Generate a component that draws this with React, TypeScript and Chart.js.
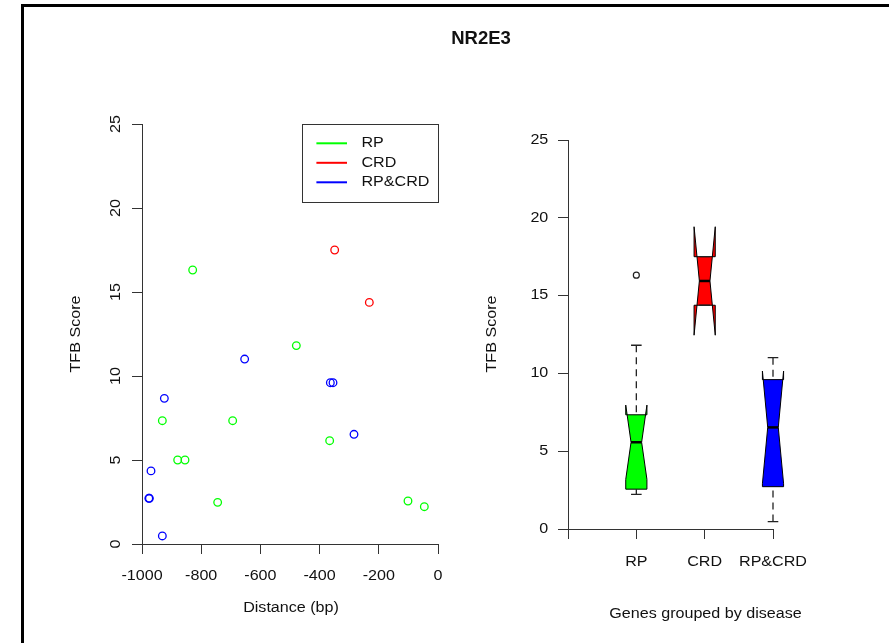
import React, { useEffect, useRef } from 'react';
import { Chart, registerables } from 'chart.js';

Chart.register(...registerables);

// ---------- data ----------
const TITLE = 'NR2E3';
const GROUPS = ['RP', 'CRD', 'RP&CRD'];
const GROUP_COLORS = ['#00FF00', '#FF0000', '#0000FF'];

const RP_DIST = [-828.8, -478.6, -931.3, -693.7, -879.5, -854.7, -366, -744.4, -101.4, -46.2];
const RP_SCORE = [16.31, 11.81, 7.34, 7.34, 5.0, 5.0, 6.15, 2.48, 2.56, 2.22];
const CRD_DIST = [-349.1, -232];
const CRD_SCORE = [17.5, 14.38];
const RPCRD_DIST = [-653.2, -924.5, -363.7, -354.7, -283.8, -969.6, -977, -975, -931.3];
const RPCRD_SCORE = [11.01, 8.67, 9.6, 9.6, 6.53, 4.35, 2.72, 2.72, 0.48];

const X_TICKS = [-1000, -800, -600, -400, -200, 0];
const Y_TICKS = [0, 5, 10, 15, 20, 25];
const BOX_X_TICKS = [0, 1, 2, 3];
const BOX_TICK_LABELS = ['', 'RP', 'CRD', 'RP&CRD'];

const X_TITLE_LEFT = 'Distance (bp)';
const Y_TITLE = 'TFB Score';
const X_TITLE_RIGHT = 'Genes grouped by disease';

const DISTS = [RP_DIST, CRD_DIST, RPCRD_DIST];
const SCORES = [RP_SCORE, CRD_SCORE, RPCRD_SCORE];

// ---------- style ----------
const W = 889;
const H = 643;
const AXIS = '#333';
const TXT = '#111';
const FONT = '"Liberation Sans", Arial, Helvetica, sans-serif';
const BOX_HALF = 0.155;
const NOTCH_FRAC = 0.5;

function drawText(
  ctx: CanvasRenderingContext2D,
  s: string,
  x: number,
  y: number,
  o: { size?: number; bold?: boolean; align?: CanvasTextAlign; rot?: number; sx?: number } = {}
) {
  ctx.save();
  ctx.translate(x, y);
  if (o.rot) ctx.rotate(o.rot);
  ctx.scale(o.sx ?? 1.15, 1);
  ctx.font = `${o.bold ? 'bold ' : ''}${o.size ?? 14}px ${FONT}`;
  ctx.fillStyle = TXT;
  ctx.textAlign = o.align ?? 'center';
  ctx.textBaseline = 'middle';
  ctx.fillText(s, 0, 0);
  ctx.restore();
}

function fivenum(a: number[]) {
  const x = [...a].sort((p, q) => p - q);
  const n = x.length;
  const n4 = Math.floor((n + 3) / 2) / 2;
  const d = [1, n4, (n + 1) / 2, n + 1 - n4, n];
  return d.map((di) => 0.5 * (x[Math.floor(di) - 1] + x[Math.ceil(di) - 1]));
}

function boxStats(a: number[]) {
  const [, q1, med, q3] = fivenum(a);
  const iqr = q3 - q1;
  const lo = q1 - 1.5 * iqr;
  const hi = q3 + 1.5 * iqr;
  const inside = a.filter((v) => v >= lo && v <= hi);
  const out = a.filter((v) => v < lo || v > hi);
  const h = (1.58 * iqr) / Math.sqrt(a.length);
  return {
    q1, med, q3,
    wlo: Math.min(...inside),
    whi: Math.max(...inside),
    out,
    nl: med - h,
    nu: med + h,
  };
}

const axisCommon = (min: number, max: number, ticks: number[]) => ({
  type: 'linear' as const,
  min,
  max,
  afterBuildTicks: (s: any) => {
    s.ticks = ticks.map((v) => ({ value: v }));
  },
  ticks: { display: false },
  grid: { drawOnChartArea: false, drawTicks: true, tickLength: 10, color: AXIS, lineWidth: 1 },
  border: { display: true, color: AXIS, width: 1 },
});

export default function App() {
  const leftRef = useRef<HTMLCanvasElement>(null);
  const rightRef = useRef<HTMLCanvasElement>(null);

  useEffect(() => {
    const leftPlugin = {
      id: 'leftDecor',
      afterDraw(chart: any) {
        const ctx = chart.ctx as CanvasRenderingContext2D;
        const xs = chart.scales.x;
        const ys = chart.scales.y;
        const ca = chart.chartArea;
        xs.ticks.forEach((t: any) => drawText(ctx, String(t.value), xs.getPixelForValue(t.value), 576));
        ys.ticks.forEach((t: any) =>
          drawText(ctx, String(t.value), 115.7, ys.getPixelForValue(t.value), { rot: -Math.PI / 2 })
        );
        drawText(ctx, X_TITLE_LEFT, (ca.left + ca.right) / 2 + 1, 608.5);
        drawText(ctx, Y_TITLE, 76.5, (ca.top + ca.bottom) / 2, { rot: -Math.PI / 2 });
        drawText(ctx, TITLE, 481, 39.3, { size: 18.5, bold: true, sx: 1 });

        // legend (top-right of plot)
        const lw = 135.6;
        const lh = 77.7;
        const lx = ca.right - lw;
        const ly = ca.top;
        ctx.save();
        ctx.strokeStyle = AXIS;
        ctx.lineWidth = 1;
        ctx.strokeRect(Math.round(lx) + 0.5, Math.round(ly) + 0.5, Math.round(lw), Math.round(lh));
        chart.data.datasets.forEach((ds: any, i: number) => {
          const yy = ly + 19.3 + i * 19.5;
          ctx.strokeStyle = ds.borderColor;
          ctx.lineWidth = 2;
          ctx.beginPath();
          ctx.moveTo(lx + 14, yy);
          ctx.lineTo(lx + 44.6, yy);
          ctx.stroke();
          drawText(ctx, ds.label, lx + 59, yy, { align: 'left' });
        });
        ctx.restore();
      },
    };

    const left = new Chart(leftRef.current!, {
      type: 'scatter',
      data: {
        datasets: GROUPS.map((g, i) => ({
          label: g,
          data: DISTS[i].map((x, j) => ({ x, y: SCORES[i][j] })),
          borderColor: GROUP_COLORS[i],
          backgroundColor: 'rgba(0,0,0,0)',
          pointRadius: 3.8,
          pointHoverRadius: 3.8,
          pointBorderWidth: 1.3,
          clip: false as any,
        })),
      },
      options: {
        responsive: false,
        animation: false,
        events: [],
        layout: { autoPadding: false, padding: { left: 142, right: W - 438, top: 124, bottom: H - 544 } },
        plugins: { legend: { display: false }, tooltip: { enabled: false }, title: { display: false } },
        scales: {
          x: { ...axisCommon(-1000, 0, X_TICKS), afterFit: (s: any) => { s.height = 0; } },
          y: { ...axisCommon(0, 25, Y_TICKS), afterFit: (s: any) => { s.width = 0; } },
        } as any,
      },
      plugins: [leftPlugin],
    });

    const stats = SCORES.map((s) => boxStats(s));

    const rightPlugin = {
      id: 'rightDecor',
      beforeDatasetsDraw(chart: any) {
        const ctx = chart.ctx as CanvasRenderingContext2D;
        const xs = chart.scales.x;
        const ys = chart.scales.y;
        const px = (v: number) => xs.getPixelForValue(v);
        const py = (v: number) => ys.getPixelForValue(v);
        stats.forEach((st, i) => {
          const pos = i + 1;
          const w = BOX_HALF;
          const nn = NOTCH_FRAC;
          const offs = [-w, w, w, nn * w, w, w, -w, -w, -nn * w, -w];
          const vals = [st.q1, st.q1, st.nl, st.med, st.nu, st.q3, st.q3, st.nu, st.med, st.nl];
          ctx.save();
          ctx.beginPath();
          offs.forEach((o, k) => {
            const X = px(pos + o);
            const Y = py(vals[k]);
            if (k === 0) ctx.moveTo(X, Y);
            else ctx.lineTo(X, Y);
          });
          ctx.closePath();
          ctx.fillStyle = GROUP_COLORS[i];
          ctx.fill('nonzero');
          ctx.strokeStyle = '#000';
          ctx.lineWidth = 1;
          ctx.lineJoin = 'miter';
          ctx.stroke();
          // median
          ctx.lineWidth = 2.5;
          ctx.beginPath();
          ctx.moveTo(px(pos - nn * w), py(st.med));
          ctx.lineTo(px(pos + nn * w), py(st.med));
          ctx.stroke();
          // whiskers
          ctx.lineWidth = 1.3;
          ctx.strokeStyle = '#222';
          ctx.setLineDash([7, 5]);
          ctx.beginPath();
          ctx.moveTo(px(pos), py(st.wlo));
          ctx.lineTo(px(pos), py(st.q1));
          ctx.moveTo(px(pos), py(st.whi));
          ctx.lineTo(px(pos), py(st.q3));
          ctx.stroke();
          ctx.setLineDash([]);
          // staples
          ctx.beginPath();
          ctx.moveTo(px(pos - 0.5 * w), py(st.wlo));
          ctx.lineTo(px(pos + 0.5 * w), py(st.wlo));
          ctx.moveTo(px(pos - 0.5 * w), py(st.whi));
          ctx.lineTo(px(pos + 0.5 * w), py(st.whi));
          ctx.stroke();
          ctx.restore();
        });
      },
      afterDraw(chart: any) {
        const ctx = chart.ctx as CanvasRenderingContext2D;
        const xs = chart.scales.x;
        const ys = chart.scales.y;
        xs.ticks.forEach((t: any) => {
          const lbl = BOX_TICK_LABELS[BOX_X_TICKS.indexOf(t.value)] ?? '';
          if (lbl) drawText(ctx, lbl, xs.getPixelForValue(t.value), 561.8);
        });
        ys.ticks.forEach((t: any) =>
          drawText(ctx, String(t.value), 548.3, ys.getPixelForValue(t.value), { align: 'right' })
        );
        drawText(ctx, Y_TITLE, 492.5, 334, { rot: -Math.PI / 2 });
        drawText(ctx, X_TITLE_RIGHT, 705.5, 614);
      },
    };

    const outliers: { x: number; y: number }[] = [];
    stats.forEach((st, i) => st.out.forEach((v) => outliers.push({ x: i + 1, y: v })));

    const right = new Chart(rightRef.current!, {
      type: 'scatter',
      data: {
        datasets: [
          {
            label: 'outliers',
            data: outliers,
            borderColor: '#222',
            backgroundColor: 'rgba(0,0,0,0)',
            pointRadius: 3,
            pointHoverRadius: 3,
            pointBorderWidth: 1.2,
            clip: false as any,
          },
        ],
      },
      options: {
        responsive: false,
        animation: false,
        events: [],
        layout: { autoPadding: false, padding: { left: 568, right: W - 773, top: 140, bottom: H - 529 } },
        plugins: { legend: { display: false }, tooltip: { enabled: false }, title: { display: false } },
        scales: {
          x: { ...axisCommon(0, 3, BOX_X_TICKS), afterFit: (s: any) => { s.height = 0; } },
          y: { ...axisCommon(0, 25, Y_TICKS), afterFit: (s: any) => { s.width = 0; } },
        } as any,
      },
      plugins: [rightPlugin],
    });

    return () => {
      left.destroy();
      right.destroy();
    };
  }, []);

  const cv: React.CSSProperties = { position: 'absolute', left: 0, top: 0, width: W, height: H };
  return (
    <div style={{ position: 'absolute', left: 0, top: 0, width: W, height: H, overflow: 'hidden', background: '#fff' }}>
      <div
        style={{
          position: 'absolute',
          left: 21,
          top: 4,
          width: 1000,
          height: 1000,
          borderLeft: '3px solid #000',
          borderTop: '3px solid #000',
        }}
      />
      <canvas ref={leftRef} width={W} height={H} style={cv} />
      <canvas ref={rightRef} width={W} height={H} style={cv} />
    </div>
  );
}
